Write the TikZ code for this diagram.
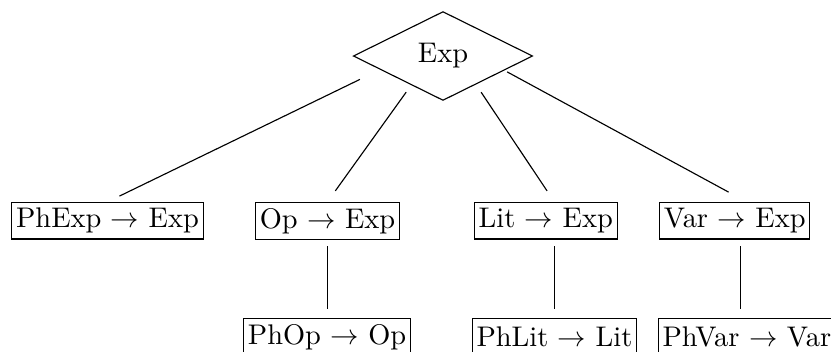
\documentclass[tikz,border=0pt]{standalone}
\usetikzlibrary{positioning,shapes.geometric}

\begin{document}
\begin{tikzpicture}[
  rule/.style={rectangle, draw, inner xsep=1.5pt, inner ysep=2pt, minimum height=12.8pt},
  sort/.style={diamond, draw, minimum width=2.22cm, minimum height=1.1cm, inner sep=0pt},
  link/.style={shorten >=4.7pt}
]
\useasboundingbox (0,0) rectangle (10.284,4.344);

% Root sort
\node[sort] (exp) at (5.482,3.651) {Exp};
\coordinate (fork) at ([shift={(0.7pt,6.3pt)}]exp.center);

% Level 1: productions into Exp
\node[rule] (phexp) at (1.330,1.612) {PhExp $\rightarrow$ Exp};
\node[rule] (op) at (4.053,1.612) {Op $\rightarrow$ Exp};
\node[rule] (lit) at (6.754,1.612) {Lit $\rightarrow$ Exp};
\node[rule] (var) at (9.092,1.612) {Var $\rightarrow$ Exp};

% Level 2: placeholders, hanging from their top edge
\node[rule, anchor=north] (phop) at (4.047,0.412) {PhOp $\rightarrow$ Op};
\node[rule, anchor=north] (phlit) at (6.862,0.412) {PhLit $\rightarrow$ Lit};
\node[rule, anchor=north west] (phvar) at (8.139,0.412) {PhVar $\rightarrow$ Var};

% Edges from the root
\draw[link, shorten <=33.3pt] (fork) -- (phexp.north);
\draw[link, shorten <=23.4pt] (fork) -- (op.north);
\draw[link, shorten <=22.9pt] (fork) -- (phlit.north |- lit.north);
\draw[link, shorten <=24.9pt, shorten >=7.3pt] (fork) -- (phvar.north |- var.north);

% Edges down to the placeholders
\draw[shorten <=2.3pt, shorten >=3.2pt] (op.south) -- (op.south |- phop.north);
\draw[shorten <=2.3pt, shorten >=3.2pt] (phlit.north |- lit.south) -- (phlit.north);
\draw[shorten <=2.3pt, shorten >=3.2pt] ([xshift=1.9pt]var.south) -- ([xshift=1.9pt]var.south |- phvar.north);

\end{tikzpicture}
\end{document}
